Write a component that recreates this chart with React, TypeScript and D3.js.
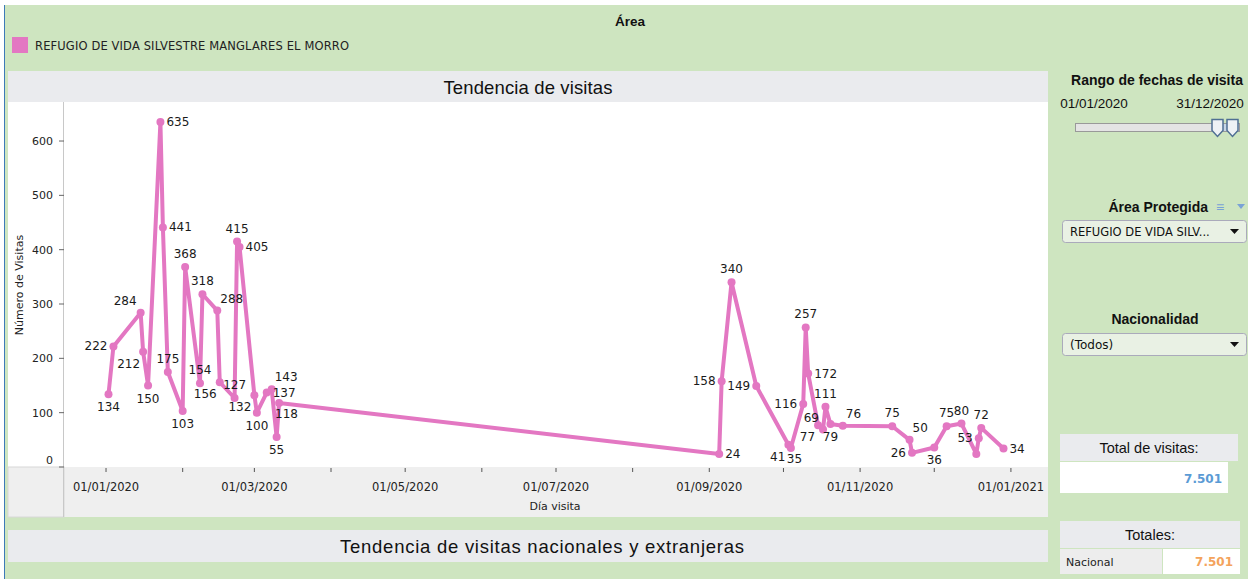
import * as d3 from "d3";

// visitas diarias (fecha, valor, posición de etiqueta)
const fechas = [
  "2020-01-02", "2020-01-04", "2020-01-15", "2020-01-16", "2020-01-18", "2020-01-23",
  "2020-01-24", "2020-01-26", "2020-02-01", "2020-02-02", "2020-02-08", "2020-02-09",
  "2020-02-15", "2020-02-16", "2020-02-22", "2020-02-23", "2020-02-24", "2020-03-01",
  "2020-03-02", "2020-03-06", "2020-03-08", "2020-03-10", "2020-03-11",
  "2020-09-05", "2020-09-06", "2020-09-10", "2020-09-20", "2020-10-03", "2020-10-04",
  "2020-10-09", "2020-10-10", "2020-10-11", "2020-10-15", "2020-10-17", "2020-10-18",
  "2020-10-20", "2020-10-25", "2020-11-14", "2020-11-21", "2020-11-22", "2020-12-01",
  "2020-12-06", "2020-12-12", "2020-12-18", "2020-12-19", "2020-12-20", "2020-12-29",
];
const visitas = [
  134, 222, 284, 212, 150, 635, 441, 175, 103, 368, 154, 318, 288, 156, 127, 415, 405, 132,
  100, 137, 143, 55, 118,
  24, 158, 340, 149, 41, 35, 116, 257, 172, 77, 69, 111, 79, 76, 75, 50, 26, 36, 75, 80,
  24, 53, 72, 34,
];
const etiquetas = [
  "b", "l", "tl", "bl", "b", "r", "r", "t", "b", "t", "t", "t", "tr", "bl", "t", "t", "r", "bl",
  "b", "r", "tr", "b", "br",
  "r", "l", "t", "l", "bl", "br", "l", "t", "r", "bl", "tl", "t", "b", "tr", "t", "tr", "l", "b",
  "t", "t", "n", "l", "t", "r",
];
const yTicks = [0, 100, 200, 300, 400, 500, 600];
const area = "REFUGIO DE VIDA SILVESTRE MANGLARES EL MORRO";
const totalVisitas = "7.501";

const PINK = "#e377c2";
const GREEN = "#cee5c0";
const FONT = "'DejaVu Sans', Verdana, sans-serif";
const SANS = "'Liberation Sans', Arial, sans-serif";

const offsets: Record<string, [number, number, string]> = {
  t: [0, -9, "middle"],
  b: [0, 17, "middle"],
  l: [-6, 4, "end"],
  r: [6, 4, "start"],
  tl: [-4, -8, "end"],
  tr: [3, -8, "start"],
  bl: [-3, 16, "end"],
  br: [-4, 15, "start"],
};

export default function App() {
  const W = 1248;
  const H = 579;
  const left = 64, right = 1048, top = 103, bottom = 467;

  const parse = d3.timeParse("%Y-%m-%d");
  const data = fechas.map((f, i) => ({ d: parse(f) as Date, v: visitas[i], p: etiquetas[i] }));

  const x = d3.scaleTime()
    .domain([new Date(2019, 11, 15), new Date(2021, 0, 16)])
    .range([left, right]);
  const y = d3.scaleLinear().domain([0, 670]).range([bottom, top]);

  const line = d3.line<{ d: Date; v: number }>()
    .x((p) => x(p.d))
    .y((p) => y(p.v));

  const monthTicks = d3.timeMonth.range(new Date(2020, 0, 1), new Date(2021, 0, 2));
  const fmt = d3.timeFormat("%d/%m/%Y");

  return (
    <svg width={W} height={H} style={{ position: "fixed", left: 0, top: 0 }}>
      <rect x={0} y={0} width={W} height={H} fill="#fff" />
      <rect x={5} y={5} width={W - 5} height={H - 5} fill={GREEN} />
      <line x1={4.5} y1={5} x2={4.5} y2={H} stroke="#3d7ab8" />

      {/* cabecera y leyenda */}
      <text x={630} y={26} textAnchor="middle" fontFamily={SANS} fontWeight="bold" fontSize={13.5} fill="#111">Área</text>
      <rect x={12} y={37} width={16} height={16} fill={PINK} />
      <text x={35} y={49.5} fontFamily={FONT} fontSize={11.5} fill="#222" textLength={314}>{area}</text>

      {/* panel del gráfico */}
      <rect x={8} y={71} width={right - 8} height={31} fill="#eaebee" />
      <text x={528} y={94} textAnchor="middle" fontFamily={SANS} fontSize={18.5} fill="#111" textLength={169}>Tendencia de visitas</text>
      <rect x={8} y={102} width={right - 8} height={bottom - 102} fill="#fff" />
      <rect x={left} y={bottom} width={right - left} height={50} fill="#efefef" />
      <rect x={8} y={bottom} width={left - 8} height={50} fill="#efefef" stroke="#d8d8d8" />
      <line x1={left - 0.5} y1={102} x2={left - 0.5} y2={bottom + 50} stroke="#c8c8c8" />

      {/* eje Y */}
      {yTicks.map((t) => (
        <g key={t}>
          <line x1={left - 5} x2={left} y1={y(t)} y2={y(t)} stroke="#666" />
          <text x={left - 11} y={t === 0 ? y(t) - 3 : y(t) + 4} textAnchor="end" fontFamily={FONT} fontSize={11} fill="#222">{t}</text>
        </g>
      ))}
      <text transform={`translate(23,${(top + bottom) / 2}) rotate(-90)`} textAnchor="middle" fontFamily={FONT} fontSize={11} fill="#222">Número de Visitas</text>

      {/* eje X */}
      {monthTicks.map((m, i) => (
        <g key={i}>
          <line x1={x(m)} x2={x(m)} y1={bottom + 1} y2={bottom + 5} stroke="#555" />
          {m.getMonth() % 2 === 0 && (
            <text x={x(m)} y={bottom + 24} textAnchor="middle" fontFamily={FONT} fontSize={11.5} fill="#222">{fmt(m)}</text>
          )}
        </g>
      ))}
      <text x={555} y={bottom + 43} textAnchor="middle" fontFamily={FONT} fontSize={11} fill="#222">Día visita</text>

      {/* serie */}
      <path d={line(data) || ""} fill="none" stroke={PINK} strokeWidth={4} strokeLinejoin="round" />
      {data.map((p, i) => (
        <circle key={i} cx={x(p.d)} cy={y(p.v)} r={4} fill={PINK} />
      ))}
      {data.map((p, i) => {
        const o = offsets[p.p];
        if (!o) return null;
        return (
          <text key={i} x={x(p.d) + o[0]} y={y(p.v) + o[1]} textAnchor={o[2]} fontFamily={FONT} fontSize={12} fill="#1a1a1a">{p.v}</text>
        );
      })}

      {/* segundo panel */}
      <rect x={8} y={530} width={right - 8} height={32} fill="#eaebee" />
      <text x={542} y={553} textAnchor="middle" fontFamily={SANS} fontSize={18.5} fill="#111" textLength={404}>Tendencia de visitas nacionales y extranjeras</text>

      {/* filtros */}
      <text x={1157} y={85} textAnchor="middle" fontFamily={SANS} fontWeight="bold" fontSize={14} fill="#111">Rango de fechas de visita</text>
      <text x={1094} y={108} textAnchor="middle" fontFamily={SANS} fontSize={13.5} fill="#111">01/01/2020</text>
      <text x={1210} y={108} textAnchor="middle" fontFamily={SANS} fontSize={13.5} fill="#111">31/12/2020</text>
      <rect x={1075.5} y={123.5} width={164} height={8} fill="#e4e4e4" stroke="#999" />
      <rect x={1222} y={124} width={10} height={7} fill="#c9d6e6" />
      {[1212, 1227].map((hx) => (
        <path key={hx} d={`M${hx},119.5 h11 v11 l-5.5,6 l-5.5,-6 z`} fill="#eef1f5" stroke="#4f6f93" strokeWidth={1.5} />
      ))}

      <text x={1208} y={212} textAnchor="end" fontFamily={SANS} fontWeight="bold" fontSize={14} fill="#111">Área Protegida</text>
      <text x={1220} y={212} textAnchor="middle" fontFamily={SANS} fontSize={14} fill="#7aa2d6">≡</text>
      <path d="M1237,204 h8 l-4,5 z" fill="#7aa2d6" />
      <rect x={1062.5} y={220.5} width={184} height={22} rx={3} fill="#e9f1e4" stroke="#aab" />
      <text x={1070} y={236} fontFamily={FONT} fontSize={11.5} fill="#111">REFUGIO DE VIDA SILV...</text>
      <path d="M1230,229 h9 l-4.5,5 z" fill="#111" />

      <text x={1155} y={324} textAnchor="middle" fontFamily={SANS} fontWeight="bold" fontSize={14} fill="#111">Nacionalidad</text>
      <rect x={1062.5} y={333.5} width={184} height={22} rx={3} fill="#e9f1e4" stroke="#aab" />
      <text x={1070} y={349} fontFamily={FONT} fontSize={12} fill="#111">(Todos)</text>
      <path d="M1230,342 h9 l-4.5,5 z" fill="#111" />

      {/* totales */}
      <rect x={1060} y={434} width={178} height={27} fill="#eaebee" />
      <text x={1149} y={453} textAnchor="middle" fontFamily={SANS} fontSize={14.5} fill="#111">Total de visitas:</text>
      <rect x={1060} y={462} width={168} height={31} fill="#fff" />
      <text x={1222} y={483} textAnchor="end" fontFamily={FONT} fontWeight="bold" fontSize={12} fill="#5b9bd5">{totalVisitas}</text>

      <rect x={1060} y={521} width={180} height={27} fill="#eaebee" />
      <text x={1150} y={540} textAnchor="middle" fontFamily={SANS} fontSize={14.5} fill="#111">Totales:</text>
      <rect x={1060} y={549} width={102} height={25} fill="#ededed" />
      <text x={1066} y={566} fontFamily={FONT} fontSize={11} fill="#222">Nacional</text>
      <rect x={1163} y={549} width={77} height={25} fill="#fff" />
      <text x={1233} y={566} textAnchor="end" fontFamily={FONT} fontWeight="bold" fontSize={12} fill="#f4a35c">{totalVisitas}</text>
    </svg>
  );
}
